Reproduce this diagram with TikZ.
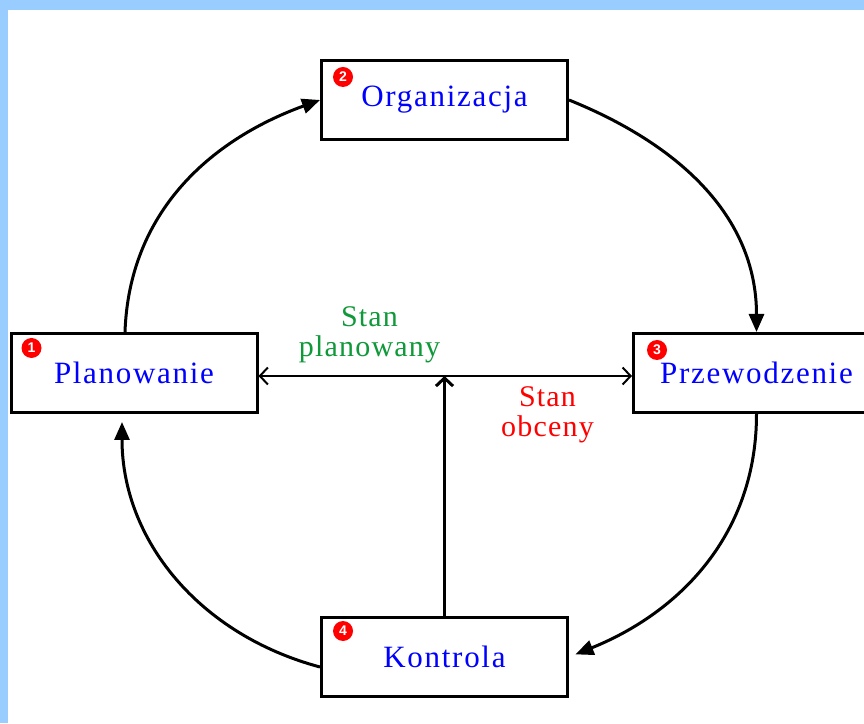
\documentclass[tikz,border=0pt]{standalone}
\usepackage{fontspec}
\setmainfont{Liberation Serif}
\newfontfamily\etapfont[LetterSpace=5.5]{Liberation Serif}
\newfontfamily\stanfont[LetterSpace=4]{Liberation Serif}
\newfontfamily\badgefont{Liberation Sans}
\usetikzlibrary{arrows.meta}
\definecolor{ramka}{HTML}{99CCFF}
\definecolor{zielony}{HTML}{10993A}

\tikzset{etap/.style = {draw, line width=3pt, minimum width=246pt, minimum height=79pt,
                        text=blue, font=\etapfont\fontsize{31}{36}\selectfont},
         numer/.style = {circle, fill=red, minimum size=#1, inner sep=0pt, text=white,
                         font=\badgefont\bfseries\fontsize{14}{14}\selectfont},
         numer/.default=20pt,
         cykl/.style = {line width=3pt, -{Triangle[length=18pt,width=15pt]}},
         stan/.style = {align=center, font=\stanfont\fontsize{30}{30}\selectfont}
        }

\begin{document}
\begin{tikzpicture}[x=1pt,y=1pt]
  \clip (0,0) rectangle (864,723);
  \fill[ramka] (0,0) rectangle (864,723);
  \fill[white] (8,0) rectangle (864,713);

  % the four stages
  \node[etap] (org)  at (444.5,623) {Organizacja};
  \node[etap] (plan) at (134,350)   {Planowanie};
  \node[etap] (prz)  at (756.5,350) {Przewodzenie};
  \node[etap] (kon)  at (444.5,66)  {Kontrola};

  \node[numer] (n1) at ([shift={(22,-16)}]plan.north west) {1};
  \node[numer] (n2) at ([shift={(23,-18)}]org.north west)  {2};
  \node[numer] (n3) at ([shift={(25,-18)}]prz.north west)  {3};
  \node[numer] (n4) at ([shift={(23,-15)}]kon.north west)  {4};

  % cycle
  \draw[cykl] ([xshift=-9pt]plan.north) to[out=88,in=200] (org.west);
  \draw[cykl] (org.east) to[out=-22,in=90] (prz.north);
  \draw[cykl, shorten >=7pt] (prz.south) to[out=-90,in=22] (kon.east);
  \draw[cykl, shorten >=8pt] ([yshift=-10pt]kon.west) to[out=165,in=-90] ([xshift=-12pt]plan.south);

  % planned vs current state
  \coordinate (mid) at (kon.north |- plan.east);
  \draw[line width=2pt, {Straight Barb[length=8pt,width=17pt]}-{Straight Barb[length=8pt,width=17pt]}]
       ([yshift=-3pt]plan.east) -- ([yshift=-3pt]prz.west);
  \draw[line width=3pt, -{Straight Barb[length=8pt,width=17pt]}] (kon.north) -- ([yshift=-3pt]mid);

  \node[stan, text=zielony] (plany)  at ([shift={(-75,38)}]mid) {Stan\\planowany};
  \node[stan, text=red]     (obecny) at ([shift={(103,-42)}]mid) {Stan\\obceny};
\end{tikzpicture}
\end{document}
